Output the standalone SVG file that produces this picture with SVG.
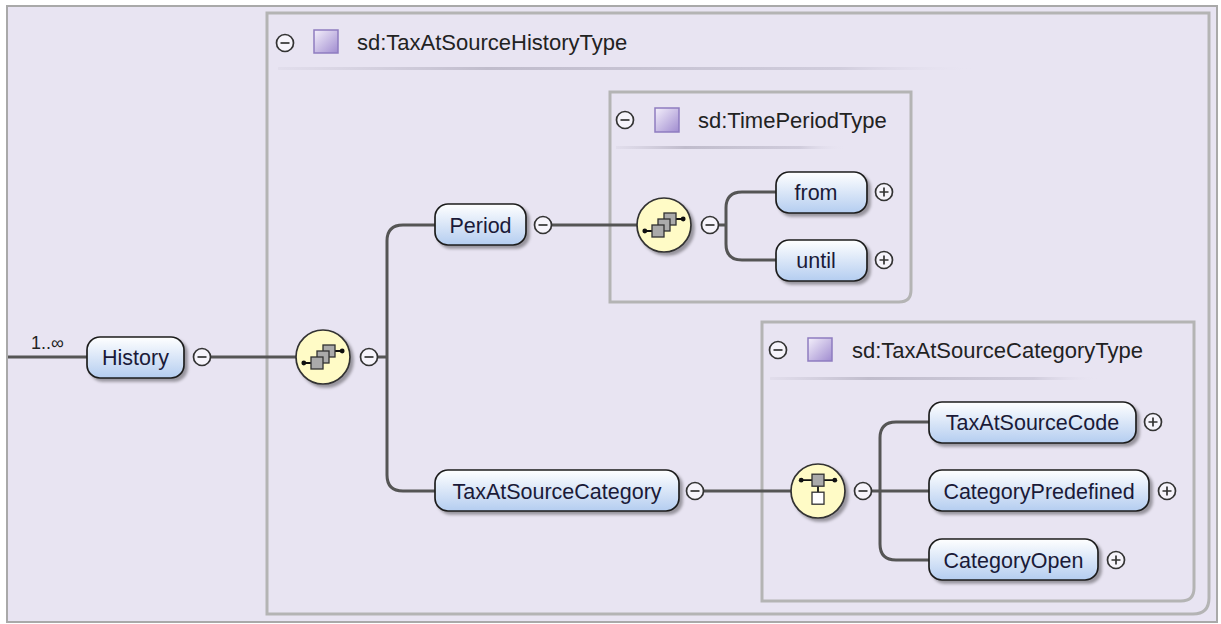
<svg xmlns="http://www.w3.org/2000/svg" width="1221" height="624" viewBox="0 0 1221 624">
<defs>
<linearGradient id="ng" x1="0" y1="0" x2="0" y2="1">
<stop offset="0" stop-color="#ffffff"/>
<stop offset="1" stop-color="#b4cdf0"/>
</linearGradient>
<linearGradient id="pg" x1="0" y1="0" x2="1" y2="1">
<stop offset="0" stop-color="#f4f0fb"/>
<stop offset="1" stop-color="#a08cd0"/>
</linearGradient>
<linearGradient id="sep" x1="0" y1="0" x2="1" y2="0">
<stop offset="0" stop-color="#c8c4d4" stop-opacity="0.2"/>
<stop offset="0.3" stop-color="#c0bccc"/>
<stop offset="0.8" stop-color="#d0ccdc"/>
<stop offset="1" stop-color="#e8e4f2" stop-opacity="0"/>
</linearGradient>
<filter id="sh" x="-20%" y="-30%" width="140%" height="170%">
<feDropShadow dx="3" dy="3" stdDeviation="1.5" flood-color="#000" flood-opacity="0.35"/>
</filter>
<g id="minus"><circle r="8.5" fill="#f6f4fb" stroke="#333" stroke-width="1.7"/><path d="M-4.5 0H4.5" stroke="#333" stroke-width="1.7"/></g>
<g id="plus"><circle r="8.5" fill="#f6f4fb" stroke="#333" stroke-width="1.7"/><path d="M-4.5 0H4.5M0 -4.5V4.5" stroke="#333" stroke-width="1.7"/></g>
<g id="seq">
<circle r="27" fill="#fffbc6" stroke="#333" stroke-width="1.7" filter="url(#sh)"/>
<g transform="scale(1.2)">
<path d="M-16 5H-10M10 -5H16" stroke="#111" stroke-width="1.5"/>
<circle cx="-16" cy="5" r="2" fill="#111"/><circle cx="16" cy="-5" r="2" fill="#111"/>
<rect x="0" y="-10" width="10" height="10" fill="#aaa" stroke="#333" stroke-width="1.1"/>
<rect x="-5" y="-5" width="10" height="10" fill="#aaa" stroke="#333" stroke-width="1.1"/>
<rect x="-10" y="0" width="10" height="10" fill="#aaa" stroke="#333" stroke-width="1.1"/>
</g>
</g>
<g id="choice">
<circle r="27" fill="#fffbc6" stroke="#333" stroke-width="1.7" filter="url(#sh)"/>
<g transform="scale(1.2)">
<path d="M-14 -9H14M0 -4V1" stroke="#111" stroke-width="1.5"/>
<circle cx="-14" cy="-9" r="2" fill="#111"/><circle cx="14" cy="-9" r="2" fill="#111"/>
<rect x="-5" y="-14" width="10" height="10" fill="#aaa" stroke="#333" stroke-width="1.1"/>
<rect x="-5" y="1" width="10" height="10" fill="#fff" stroke="#333" stroke-width="1.1"/>
</g>
</g>
</defs>
<style>
.node rect{fill:url(#ng);stroke:#1e1e1e;stroke-width:1.7;filter:url(#sh)}
.node text{font-family:"Liberation Sans",Arial,sans-serif;font-size:21.5px;fill:#1a1a38;text-anchor:middle}
.hdr{font-family:"Liberation Sans",Arial,sans-serif;font-size:22px;fill:#222}
.box{fill:none;stroke:#b4b4b4;stroke-width:3}
.conn path{fill:none;stroke:#555;stroke-width:3}
.sq{fill:url(#pg);stroke:#8e7cc0;stroke-width:1.5}
</style>
<rect x="7" y="6" width="1210" height="616" fill="#e8e4f2" stroke="#a9a9a9" stroke-width="2"/>

<g id="box-history-type">
<path class="box" d="M267 614V13H1209V598Q1209 614 1193 614Z"/>
<use href="#minus" x="285" y="43"/>
<rect class="sq" x="314" y="30" width="24" height="23"/>
<text class="hdr" x="357" y="50">sd:TaxAtSourceHistoryType</text>
<rect x="278" y="67" width="700" height="3" fill="url(#sep)"/>
</g>

<g id="box-timeperiod-type">
<path class="box" d="M610 302V92H911V290Q911 302 899 302Z"/>
<use href="#minus" x="625" y="120"/>
<rect class="sq" x="655" y="108" width="24" height="24"/>
<text class="hdr" x="698" y="128">sd:TimePeriodType</text>
<rect x="616" y="146" width="230" height="3" fill="url(#sep)"/>
</g>

<g id="box-category-type">
<path class="box" d="M762 601V322H1194V588Q1194 601 1181 601Z"/>
<use href="#minus" x="778" y="350"/>
<rect class="sq" x="808" y="338" width="24" height="23"/>
<text class="hdr" x="852" y="358">sd:TaxAtSourceCategoryType</text>
<rect x="770" y="377" width="330" height="3" fill="url(#sep)"/>
</g>

<g id="connectors" class="conn">
<path d="M8 357H87"/>
<path d="M210 357H296"/>
<path d="M377 357H387"/>
<path d="M435 225H403Q387 225 387 241V475Q387 491 403 491H435"/>
<path d="M551 225H637"/>
<path d="M718 225H726"/>
<path d="M776 192H742Q726 192 726 208V244Q726 260 742 260H776"/>
<path d="M703 491H791"/>
<path d="M871 491H929"/>
<path d="M929 422H896Q880 422 880 438V544Q880 560 896 560H929"/>
</g>

<text x="31" y="349" font-family="Liberation Sans, Arial, sans-serif" font-size="18" fill="#222">1..∞</text>

<g id="node-history" class="node"><rect x="87" y="337" width="97" height="41" rx="13"/><text x="135.5" y="365">History</text></g>
<use href="#minus" x="202" y="357"/>

<g id="seq-history"><use href="#seq" x="323" y="357"/><use href="#minus" x="369" y="357"/></g>

<g id="node-period" class="node"><rect x="435" y="204" width="91" height="41" rx="13"/><text x="480.5" y="232.5">Period</text></g>
<use href="#minus" x="543" y="225"/>

<g id="seq-period"><use href="#seq" x="664" y="225"/><use href="#minus" x="710" y="225"/></g>

<g id="node-from" class="node"><rect x="776" y="172" width="91" height="41" rx="13"/><text x="816" y="200">from</text></g>
<use href="#plus" x="884" y="192"/>
<g id="node-until" class="node"><rect x="776" y="240" width="91" height="41" rx="13"/><text x="816" y="268">until</text></g>
<use href="#plus" x="884" y="260"/>

<g id="node-category" class="node"><rect x="435" y="470" width="244" height="41" rx="13"/><text x="557" y="498.5">TaxAtSourceCategory</text></g>
<use href="#minus" x="695" y="491"/>

<g id="choice-category"><use href="#choice" x="818" y="491"/><use href="#minus" x="863" y="491"/></g>

<g id="node-code" class="node"><rect x="929" y="402" width="207" height="41" rx="13"/><text x="1032.5" y="430">TaxAtSourceCode</text></g>
<use href="#plus" x="1153" y="422"/>
<g id="node-predefined" class="node"><rect x="929" y="470" width="220" height="41" rx="13"/><text x="1039" y="498.5">CategoryPredefined</text></g>
<use href="#plus" x="1167" y="491"/>
<g id="node-open" class="node"><rect x="929" y="539" width="169" height="41" rx="13"/><text x="1013.5" y="567.5">CategoryOpen</text></g>
<use href="#plus" x="1116" y="560"/>
</svg>
